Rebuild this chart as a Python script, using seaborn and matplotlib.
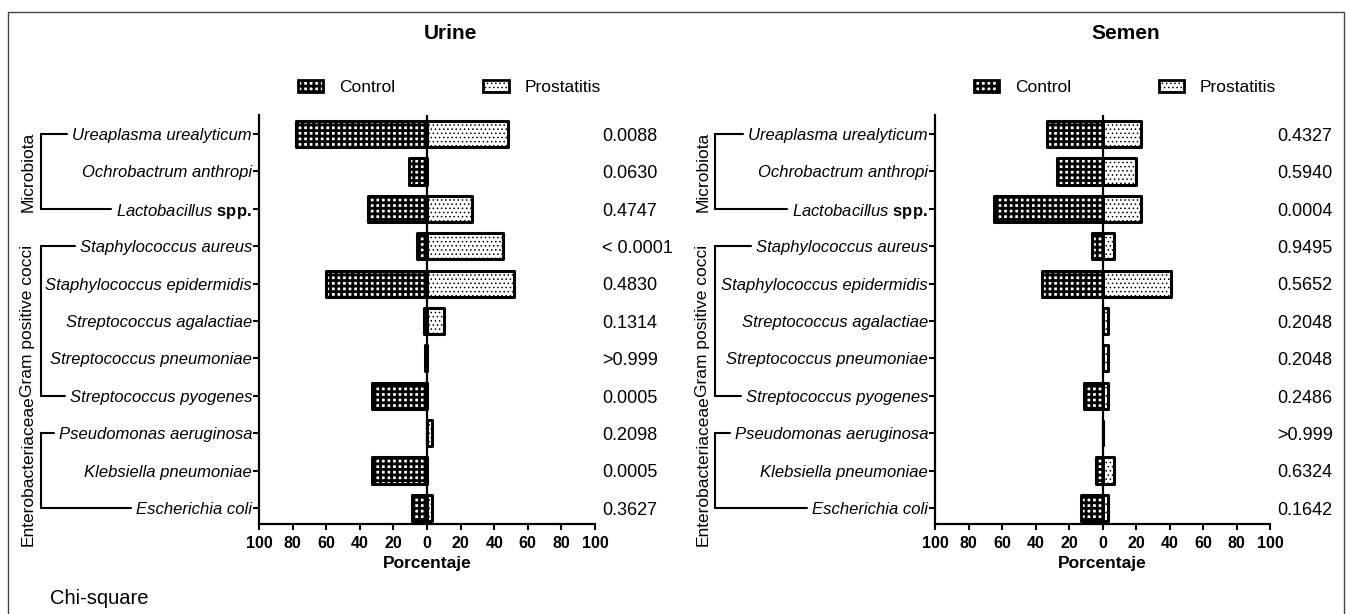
import numpy as np
import pandas as pd
import matplotlib
matplotlib.use("Agg")
import matplotlib.pyplot as plt
import seaborn as sns
from matplotlib.patches import Patch, Rectangle
import matplotlib.transforms as mtransforms

# ---------------- data ----------------
species = ["Ureaplasma urealyticum", "Ochrobactrum anthropi", "Lactobacillus spp.",
           "Staphylococcus aureus", "Staphylococcus epidermidis", "Streptococcus agalactiae",
           "Streptococcus pneumoniae", "Streptococcus pyogenes", "Pseudomonas aeruginosa",
           "Klebsiella pneumoniae", "Escherichia coli"]
species_display = ["Ureaplasma urealyticum", "Ochrobactrum anthropi",
                   "$\\mathit{Lactobacillus}$ $\\mathbf{spp.}$",
                   "Staphylococcus aureus", "Staphylococcus epidermidis", "Streptococcus agalactiae",
                   "Streptococcus pneumoniae", "Streptococcus pyogenes", "Pseudomonas aeruginosa",
                   "Klebsiella pneumoniae", "Escherichia coli"]

urine_control = [78, 11, 35, 6, 60, 1.6, 1.3, 33, 0, 33, 9]
urine_prostatitis = [48, 0, 27, 45, 52, 10, 0, 0, 3, 0, 3]
urine_p = ["0.0088", "0.0630", "0.4747", "< 0.0001", "0.4830", "0.1314",
           ">0.999", "0.0005", "0.2098", "0.0005", "0.3627"]

semen_control = [33, 27, 65, 6.5, 36, 0, 0, 11, 0, 4, 13]
semen_prostatitis = [23, 20, 23, 7, 41, 3, 3, 3, 0, 7, 3]
semen_p = ["0.4327", "0.5940", "0.0004", "0.9495", "0.5652", "0.2048",
           "0.2048", "0.2486", ">0.999", "0.6324", "0.1642"]

groups = ["Microbiota", "Gram positive cocci", "Enterobacteriaceae"]
group_first = [0, 3, 8]
group_last = [2, 7, 10]

xtick_values = [-100, -80, -60, -40, -20, 0, 20, 40, 60, 80, 100]
xtick_labels = ["100", "80", "60", "40", "20", "0", "20", "40", "60", "80", "100"]

# ---------------- style ----------------
sns.set_style("ticks")
plt.rcParams['font.family'] = ['Liberation Sans', 'DejaVu Sans']
plt.rcParams['mathtext.fontset'] = 'custom'
plt.rcParams['mathtext.it'] = 'Liberation Sans:italic'
plt.rcParams['mathtext.bf'] = 'Liberation Sans:bold'
plt.rcParams['mathtext.rm'] = 'Liberation Sans'
plt.rcParams['hatch.linewidth'] = 1.2
for key in ['text.color', 'axes.labelcolor', 'xtick.color', 'ytick.color', 'axes.edgecolor']:
    plt.rcParams[key] = 'black'

CTRL_HATCH = '+++'
PROS_HATCH = '....'
CTRL_HLW = 2.0
PROS_HLW = 0.6

W, H = 1346, 614
fig = plt.figure(figsize=(W / 100, H / 100), dpi=100)


def px_axes(x0, x1, y0, y1):
    return fig.add_axes([x0 / W, 1 - y1 / H, (x1 - x0) / W, (y1 - y0) / H])


ax1 = px_axes(259, 595, 115, 524)
ax2 = px_axes(935, 1270, 115, 524)


def set_hlw(p, lw):
    if hasattr(p, 'set_hatch_linewidth'):
        p.set_hatch_linewidth(lw)


def draw_panel(ax, control, prost, pvals, title):
    df = pd.DataFrame({"species": species,
                       "control": [-v for v in control],
                       "prost": prost})
    sns.barplot(data=df, x="control", y="species", orient="h", color="white",
                edgecolor="black", linewidth=2.2, width=0.7, errorbar=None, ax=ax)
    sns.barplot(data=df, x="prost", y="species", orient="h", color="white",
                edgecolor="black", linewidth=2.2, width=0.7, errorbar=None, ax=ax)
    n = len(species)
    for i, p in enumerate(ax.patches):
        p.set_facecolor("white")
        p.set_edgecolor("black")
        p.set_joinstyle("round")
        if i < n:
            p.set_hatch(CTRL_HATCH)
            set_hlw(p, CTRL_HLW)
        else:
            p.set_hatch(PROS_HATCH)
            set_hlw(p, PROS_HLW)
    ax.axvline(0, color="black", lw=1.6, zorder=6)
    ax.set_xlim(-100, 100)
    ax.set_ylim(10.43, -0.51)
    for s in ["top", "right"]:
        ax.spines[s].set_visible(False)
    for s in ["left", "bottom"]:
        ax.spines[s].set_linewidth(1.6)
        ax.spines[s].set_color("black")
    ax.set_xticks(xtick_values)
    ax.set_xticklabels(xtick_labels, fontsize=11.5, fontweight="bold")
    ax.set_yticks(range(len(species)))
    ax.set_yticklabels(species_display, fontsize=12, fontstyle="italic")
    ax.tick_params(axis="y", length=4, width=1.5, pad=1, left=True, color="black",
                   labelcolor="black")
    ax.tick_params(axis="x", length=4.5, width=1.5, pad=4.5, bottom=True, color="black",
                   labelcolor="black")
    ax.set_ylabel("")
    ax.set_xlabel("Porcentaje", fontsize=12.5, fontweight="bold", labelpad=3,
                  color="black")
    trans = mtransforms.blended_transform_factory(ax.transAxes, ax.transData)
    for i, p in enumerate(pvals):
        ax.text(1.022, i + 0.06, p, transform=trans, ha="left", va="center",
                fontsize=13, clip_on=False, color="black")
    ax.text(0.57, 1.2, title, transform=ax.transAxes, ha="center", va="center",
            fontsize=15, fontweight="bold", color="black")
    h1 = Patch(facecolor="white", edgecolor="black", hatch=CTRL_HATCH, linewidth=2, label="Control")
    h2 = Patch(facecolor="white", edgecolor="black", hatch=PROS_HATCH, linewidth=2, label="Prostatitis")
    set_hlw(h1, CTRL_HLW)
    set_hlw(h2, PROS_HLW)
    leg = ax.legend(handles=[h1, h2], loc="center left", bbox_to_anchor=(0.116, 1.068),
                    ncol=2, frameon=False, fontsize=12.5, handlelength=1.45,
                    handleheight=0.7, handletextpad=0.9, columnspacing=5.1,
                    borderpad=0, borderaxespad=0, labelcolor="black")
    for lp, lw in zip(leg.get_patches(), [CTRL_HLW, PROS_HLW]):
        set_hlw(lp, lw)


draw_panel(ax1, urine_control, urine_prostatitis, urine_p, "Urine")
draw_panel(ax2, semen_control, semen_prostatitis, semen_p, "Semen")

fig.canvas.draw()
renderer = fig.canvas.get_renderer()


def draw_groups(ax, bracket_off_px, label_off_px):
    trans = mtransforms.blended_transform_factory(ax.transAxes, ax.transData)
    w = ax.bbox.width
    labels = ax.get_yticklabels()

    def end_frac(r):
        bb = labels[r].get_window_extent(renderer)
        return (bb.x0 - 5 - ax.bbox.x0) / w

    xv = bracket_off_px / w
    for g, r0, r1 in zip(groups, group_first, group_last):
        ax.plot([end_frac(r0), xv, xv, end_frac(r1)], [r0, r0, r1, r1],
                transform=trans, clip_on=False, color="black", lw=1.5,
                solid_joinstyle="miter")
        ax.text(label_off_px / w, (r0 + r1) / 2, g, rotation=90, ha="center",
                va="center", transform=trans, fontsize=12.5, clip_on=False,
                color="black")


draw_groups(ax1, 41 - 259, 28 - 259)
draw_groups(ax2, 715 - 935, 703 - 935)

fig.patches.append(Rectangle((8 / W, -0.05), (1344 - 8) / W, (614 - 12) / H + 0.05,
                             transform=fig.transFigure, fill=False,
                             edgecolor="#444444", lw=1))
fig.text(50 / W, 1 - 598 / H, "Chi-square", ha="left", va="center", fontsize=14.5,
         color="black")

fig.savefig("out.png", dpi=100)
